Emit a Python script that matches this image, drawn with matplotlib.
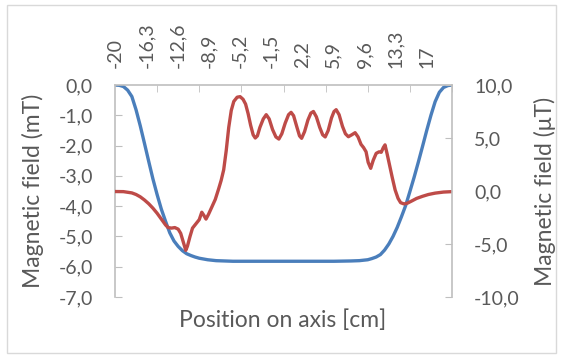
# Magnetic field along the axis: main field (mT, left) and residual (uT, right)
import matplotlib
matplotlib.use("Agg")
import matplotlib.pyplot as plt
from matplotlib.patches import Rectangle

plt.rcParams['font.family'] = ['Lato', 'DejaVu Sans']

# blue curve, left axis (mT)
pos_main = [-20, -19.5, -19, -18.5, -18, -17.5, -17, -16.5, -16, -15.5, -15, -14.5,
            -14, -13.5, -13, -12.5, -12, -11.5, -11, -10.5, -10, -9, -8, -6, 0, 6,
            8, 9, 10, 10.5, 11, 11.5, 12, 12.5, 13, 13.5, 14, 14.5, 15, 15.5, 16,
            16.5, 17, 17.5, 18, 18.5, 19, 19.5, 20]
field_mT = [0, -0.01, -0.05, -0.17, -0.38, -0.82, -1.35, -1.93, -2.52, -3.1, -3.62, -4.1,
            -4.5, -4.88, -5.15, -5.33, -5.47, -5.57, -5.63, -5.68, -5.72, -5.77, -5.8, -5.82,
            -5.82, -5.82, -5.81, -5.8, -5.77, -5.73, -5.68, -5.6, -5.45, -5.25, -5.0, -4.7,
            -4.35, -3.98, -3.52, -3.05, -2.55, -2.03, -1.5, -1.0, -0.55, -0.24, -0.08, -0.02, 0]

# red curve, right axis (uT)
pos_res = [-20, -19, -18, -17.5, -17, -16.5, -16, -15.5, -15, -14.5, -14, -13.7, -13.3,
           -12.9, -12.5, -12.2, -11.9, -11.6, -11.4, -11.1, -10.8, -10.4, -10.0, -9.7,
           -9.45, -9.2, -8.9, -8.5, -8.1, -7.7, -7.4, -7.1, -6.8, -6.5, -6.2, -5.9, -5.5,
           -5.15, -4.8, -4.5, -4.2, -3.9, -3.6, -3.35, -3.1, -2.8, -2.4, -2.05, -1.7, -1.3,
           -0.9, -0.55, -0.2, 0.2, 0.6, 0.9, 1.2, 1.6, 1.9, 2.15, 2.5, 2.9, 3.25, 3.55,
           3.9, 4.3, 4.65, 4.95, 5.3, 5.7, 6.0, 6.25, 6.6, 7.0, 7.35, 7.7, 8.1, 8.5, 8.85,
           9.2, 9.5, 9.8, 10.05, 10.35, 10.65, 11.0, 11.35, 11.6, 11.85, 12.05, 12.3, 12.6,
           12.9, 13.25, 13.6, 13.9, 14.3, 14.7, 15.2, 15.8, 16.5, 17.2, 18, 19, 20]
field_uT = [-0.05, -0.06, -0.18, -0.33, -0.55, -0.85, -1.2, -1.62, -2.1, -2.65, -3.2, -3.45,
            -3.5, -3.45, -3.6, -4.0, -4.8, -5.6, -5.2, -4.3, -3.5, -3.1, -2.7, -2.0, -2.3,
            -2.65, -2.2, -1.5, -0.8, 0.2, 1.0, 2.0, 3.8, 6.0, 7.6, 8.45, 8.85, 8.9, 8.65,
            8.2, 7.3, 6.2, 5.3, 5.0, 5.2, 6.0, 6.8, 7.2, 6.8, 5.8, 5.1, 4.9, 5.4, 6.4, 7.2,
            7.42, 7.1, 6.0, 5.2, 4.97, 5.6, 6.7, 7.35, 7.5, 7.0, 6.0, 5.3, 5.1, 5.7, 6.9,
            7.5, 7.67, 7.2, 6.1, 5.4, 5.12, 5.3, 5.5, 5.1, 4.4, 4.1, 3.7, 2.7, 2.14, 2.9,
            3.55, 3.7, 3.65, 4.1, 4.35, 3.5, 2.4, 1.3, 0.1, -0.7, -1.1, -1.22, -1.15, -0.95,
            -0.7, -0.5, -0.33, -0.2, -0.1, -0.06]

x_labels = [-20, -16.3, -12.6, -8.9, -5.2, -1.5, 2.2, 5.9, 9.6, 13.3, 17]
x_marks = [-20, -15, -10, -5, 0, 5, 10, 15, 20]
left_ticks = [0, -1, -2, -3, -4, -5, -6, -7]
right_ticks = [10, 5, 0, -5, -10]

def comma(v, dec=1):
    s = f"{v:.{dec}f}".replace('.', ',')
    return "0,0" if s == "-0,0" else s

def xlab(v):
    return str(int(v)) if float(v).is_integer() else comma(v)

grey = '#595959'
axcol = '#BFBFBF'
W, H = 563, 356
tick_fs = 14
title_fs = 16.5

fig = plt.figure(figsize=(W / 100, H / 100), dpi=100)
fig.patches.append(Rectangle((7 / W, 1 - 353 / H), 549 / W, 348 / H, transform=fig.transFigure,
                             fill=False, edgecolor='#D9D9D9', lw=1))

ax = fig.add_axes([115 / W, 1 - 297 / H, 337 / W, 212 / H])
ax.plot(pos_main, field_mT, color='#4A7EBB', lw=2.4, solid_capstyle='round', solid_joinstyle='round')
ax.set_xlim(-20, 20)
ax.set_ylim(-7, 0)
ax.set_yticks(left_ticks)
ax.set_yticklabels([comma(v) for v in left_ticks])

ax.xaxis.tick_top()
ax.set_xticks(x_labels)
ax.set_xticklabels([xlab(v) for v in x_labels])
ax.set_xticks(x_marks, minor=True)
ax.tick_params(axis='x', which='major', length=0, pad=12, rotation=90, labelsize=tick_fs, labelcolor=grey)
ax.tick_params(axis='x', which='minor', direction='in', length=5, color=axcol, top=True, bottom=False)
ax.tick_params(axis='y', direction='in', length=5, color=axcol, pad=16, labelsize=tick_fs, labelcolor=grey)

for s in ['bottom', 'right']:
    ax.spines[s].set_visible(False)
for s in ['top', 'left']:
    ax.spines[s].set_color(axcol)
    ax.spines[s].set_linewidth(1.2)

ax2 = ax.twinx()
ax2.plot(pos_res, field_uT, color='#BE4B48', lw=2.4, solid_capstyle='round', solid_joinstyle='round')
ax2.set_ylim(-10, 10)
ax2.set_yticks(right_ticks)
ax2.set_yticklabels([comma(v) for v in right_ticks])
ax2.tick_params(axis='y', direction='in', length=5, color=axcol, pad=16, labelsize=tick_fs, labelcolor=grey)
for s in ['bottom', 'top', 'left']:
    ax2.spines[s].set_visible(False)
ax2.spines['right'].set_color(axcol)
ax2.spines['right'].set_linewidth(1.2)

fig.text(33 / W, 1 - 191 / H, 'Magnetic field (mT)', rotation=90, ha='center', va='center',
         fontsize=title_fs, color=grey)
fig.text(545 / W, 1 - 191 / H, 'Magnetic field (\u03bcT)', rotation=90, ha='center', va='center',
         fontsize=title_fs, color=grey)
fig.text(283 / W, 1 - 320 / H, 'Position on axis [cm]', ha='center', va='center',
         fontsize=title_fs, color=grey)

fig.savefig('out.png', dpi=100)
